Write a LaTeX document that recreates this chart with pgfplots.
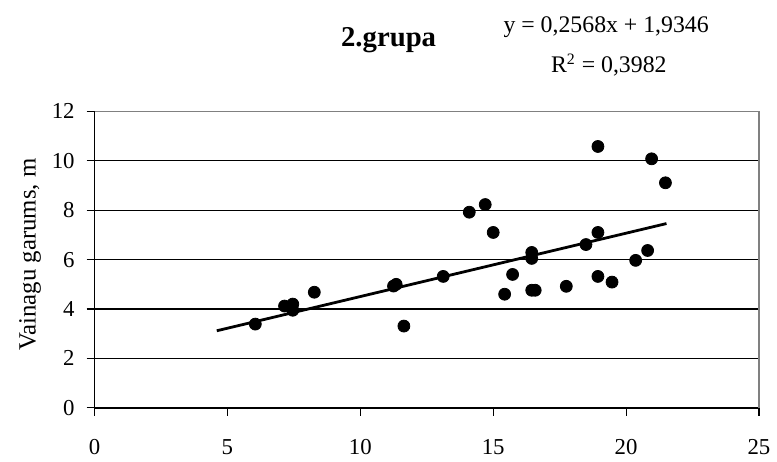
\documentclass[border=0pt]{standalone}
\usepackage{pgfplots}
\pgfplotsset{compat=1.18}
\usepackage{fontspec}
\setmainfont{Liberation Serif}
\begin{document}
\begin{tikzpicture}[x=1bp,y=1bp]
\begin{axis}[
  name=ax,
  at={(0,0)}, anchor=south west,
  scale only axis,
  width=334bp, height=149bp,
  xmin=0, xmax=25, ymin=0, ymax=12,
  xtick={0,5,10,15,20,25},
  ytick={0,2,4,6,8,10,12},
  axis lines*=left,
  axis line style={black, line width=0.8bp},
  tick style={black, line width=0.6bp},
  tick align=outside,
  major tick length=4bp,
  ymajorgrids,
  grid style={black, line width=0.6bp},
  /pgf/number format/assume math mode=true,
  ticklabel style={font=\fontsize{11.5}{13}\selectfont},
  xticklabel style={yshift=-8.5bp},
  yticklabel style={xshift=-2.5bp},
  ylabel={Vainagu garums, m},
  ylabel style={font=\fontsize{12.5}{14}\selectfont, at={(axis description cs:-0.097,0.517)}, anchor=center},
  clip=false,
]
\addplot[only marks, mark=*, mark size=3bp, black] coordinates {
(6.05,3.39) (7.15,4.12) (7.46,4.20) (7.46,3.95) (8.27,4.68)
(11.25,4.93) (11.35,5.00) (11.64,3.31) (13.12,5.32) (14.10,7.92)
(14.70,8.23) (15.00,7.10) (15.43,4.60) (15.73,5.40) (16.45,6.29)
(16.45,6.05) (16.45,4.76) (16.58,4.76) (17.75,4.92) (18.49,6.61)
(18.94,10.58) (18.94,7.10) (18.94,5.32) (19.47,5.09) (20.36,5.97)
(20.81,6.37) (20.96,10.08) (21.48,9.11)
};
\addplot[black, line width=1.4bp] coordinates {(4.6,3.12) (21.52,7.46)};
\draw[gray, line width=0.8bp] (rel axis cs:0,1) -- (rel axis cs:1,1) -- (rel axis cs:1,0);
\node[anchor=base, font=\fontsize{14.5}{16}\bfseries] at (rel axis cs:0.4426,1.219) {2.grupa};
\node[anchor=base, font=\fontsize{12}{14}\selectfont] at (rel axis cs:0.770,1.267) {y = 0,2568x + 1,9346};
\node[anchor=base, font=\fontsize{12}{14}\selectfont] at (rel axis cs:0.774,1.130) {R\textsuperscript{2} = 0,3982};
\end{axis}
\path (-47.5bp,-25bp) rectangle (341bp,205bp);
\end{tikzpicture}
\end{document}
